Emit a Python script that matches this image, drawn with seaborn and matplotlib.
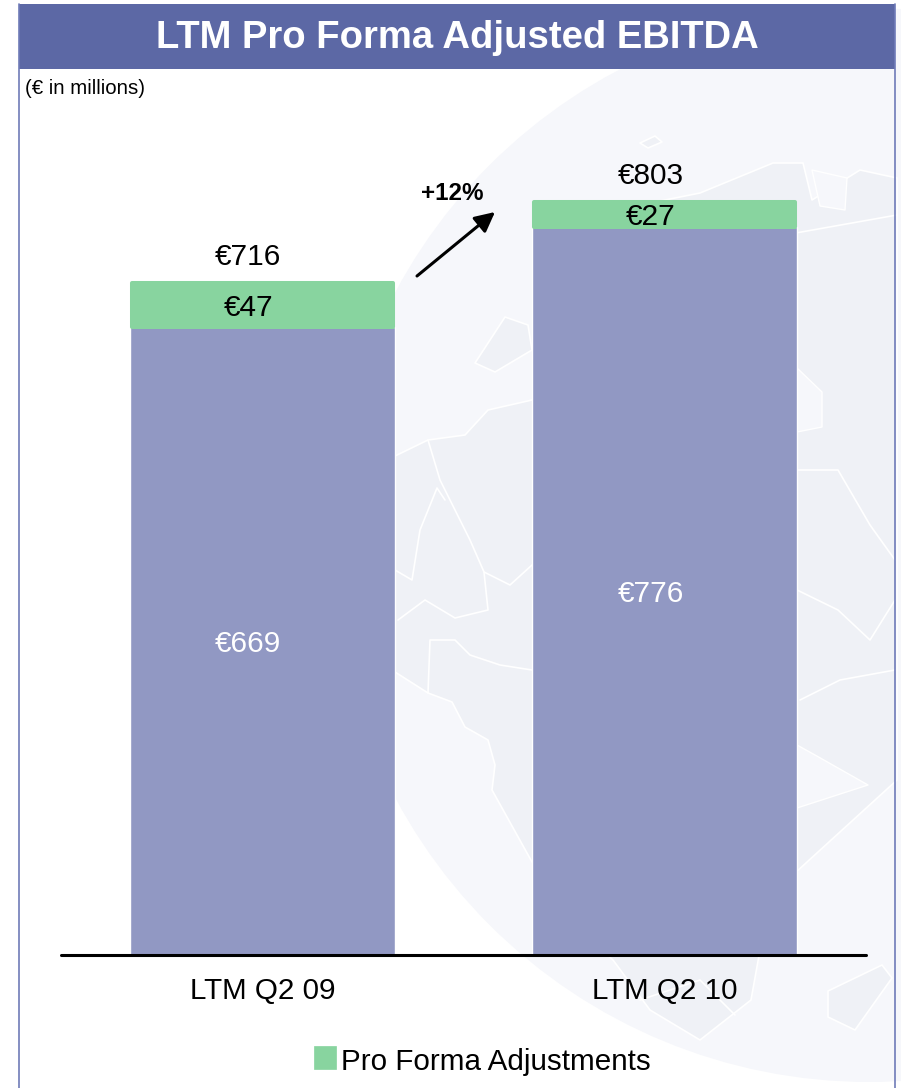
import matplotlib
matplotlib.use("Agg")
import matplotlib.pyplot as plt
import seaborn as sns
import pandas as pd
from matplotlib.patches import Circle, Polygon, Rectangle

sns.set_theme(style="white")
plt.rcParams['font.family'] = ['Liberation Sans', 'DejaVu Sans']

# Values in EUR millions, as labelled on the chart
periods = ["LTM Q2 09", "LTM Q2 10"]
base_ebitda = [669, 776]
adjustments = [47, 27]
totals = [716, 803]
growth_label = "+12%"

BLUE = "#9198c3"
GREEN = "#88d49f"
HEADER = "#5c68a5"
GLOBE = "#f6f7fb"
LAND = "#eff1f6"
W, H = 901, 1088

df = pd.DataFrame({"period": periods, "base": base_ebitda, "adj": adjustments, "total": totals})

fig = plt.figure(figsize=(W / 100, H / 100), dpi=100, facecolor="white")

# page layer in pixel coords: globe watermark, frame, header
bg = fig.add_axes([0, 0, 1, 1])
bg.set_xlim(0, W)
bg.set_ylim(H, 0)
bg.axis("off")
frame = Rectangle((19, 4), 876, 1090, fc="white", ec="none")
bg.add_patch(frame)
globe = Circle((869, 545), 537, fc=GLOBE, ec="none")
bg.add_patch(globe)

# rough continents on the globe
land = [
    [(395, 456), (428, 440), (465, 435), (488, 410), (532, 400), (700, 300), (795, 210), (897, 182),
     (897, 780), (795, 873), (760, 950), (751, 1000), (700, 1040), (650, 1010), (613, 960), (580, 930),
     (532, 862), (492, 790), (495, 765), (488, 740), (465, 727), (452, 702), (428, 693), (395, 672)],
    [(475, 363), (490, 340), (505, 317), (528, 325), (532, 350), (495, 372)],
    [(640, 205), (700, 193), (773, 163), (803, 163), (812, 200), (860, 170), (897, 178), (897, 215), (700, 250)],
    [(828, 991), (882, 965), (892, 978), (855, 1030), (828, 1017)],
    [(640, 143), (655, 136), (662, 142), (648, 148)],
]
for pts in land:
    p = Polygon(pts, closed=True, fc=LAND, ec="white", lw=1.2, joinstyle="round")
    bg.add_patch(p)
    p.set_clip_path(globe)

# seas and borders on top of the land
seas = [
    [(812, 170), (847, 178), (845, 210), (820, 206)],
    [(797, 368), (822, 392), (822, 427), (797, 432)],
    [(797, 808), (868, 785), (815, 755), (797, 745)],
]
for pts in seas:
    p = Polygon(pts, closed=True, fc=GLOBE, ec="white", lw=1.0, joinstyle="round")
    bg.add_patch(p)
    p.set_clip_path(globe)

borders = [
    [(428, 440), (440, 480), (470, 540), (484, 572), (510, 585), (532, 565)],
    [(484, 572), (488, 610), (455, 618), (425, 600), (398, 620)],
    [(395, 570), (412, 580), (420, 530), (437, 488), (445, 500)],
    [(428, 693), (430, 640), (455, 640), (470, 655), (500, 665), (532, 670)],
    [(797, 470), (838, 470), (870, 525), (895, 560)],
    [(797, 590), (838, 610), (870, 640), (895, 600)],
    [(800, 700), (840, 680), (895, 670)],
    [(640, 1000), (700, 980), (735, 1015)],
]
for pts in borders:
    xs, ys = zip(*pts)
    bg.plot(xs, ys, color="white", lw=1.2, solid_joinstyle="round")

bg.plot([19, 19], [4, H], color="#6f7bb8", lw=1.2)
bg.plot([895, 895], [4, H], color="#6f7bb8", lw=1.2)
bg.add_patch(Rectangle((19, 4), 876, 65, fc=HEADER, ec="none"))
bg.text(457, 38, "LTM Pro Forma Adjusted EBITDA", color="white", fontsize=27.5,
        fontweight="bold", ha="center", va="center")
bg.text(25, 88, "(€ in millions)", color="black", fontsize=14.7, ha="left", va="center")

# chart layer, 61-866 px wide, baseline at y=955
ax = fig.add_axes([61 / W, 1 - 955 / H, (866 - 61) / W, (955 - 70) / H])
ax.patch.set_alpha(0)
sns.barplot(data=df, x="period", y="base", color=BLUE, width=0.659, saturation=1, ax=ax)
base_bars = list(ax.patches)
sns.barplot(data=df, x="period", y="adj", bottom=df["base"], color=GREEN, width=0.649,
            saturation=1, ax=ax, edgecolor=GREEN, linewidth=2.9)
for bar in ax.patches[len(base_bars):]:
    bar.set_joinstyle("round")

ax.set_xlim(-0.5, 1.5)
ax.set_ylim(0, 885 / 0.938)
ax.set_xlabel("")
ax.set_ylabel("")
ax.set_yticks([])
ax.tick_params(axis="x", length=0, labelsize=21.3, pad=16, colors="black")
sns.despine(ax=ax, left=True)
ax.spines["bottom"].set_color("black")
ax.spines["bottom"].set_linewidth(2.2)
ax.spines["bottom"].set_capstyle("round")

for i, row in df.iterrows():
    ax.annotate(f"€{row['base']}", (i, row["base"] / 2), xytext=(-14, -3),
                textcoords="offset pixels", ha="center", va="center", color="white", fontsize=21.5)
    ax.annotate(f"€{row['adj']}", (i, row["base"] + row["adj"] / 2), xytext=(-14, -3),
                textcoords="offset pixels", ha="center", va="center", color="black", fontsize=21.5)
    ax.annotate(f"€{row['total']}", (i, row["total"]), xytext=(-14, 26),
                textcoords="offset pixels", ha="center", va="center", color="black", fontsize=21.5)

# growth arrow between the bars
bg.set_zorder(0)
ax.set_zorder(1)
ax.annotate("", xy=(495, 212), xytext=(417, 276), xycoords=bg.transData, textcoords=bg.transData,
            arrowprops=dict(arrowstyle="-|>,head_length=1.0,head_width=0.5", color="black", lw=2.2,
                            shrinkA=0, shrinkB=0))
ax.annotate(growth_label, (452, 193), xycoords=bg.transData, ha="center", va="center",
            fontsize=17.4, fontweight="bold", color="black")

# legend, only the adjustments get a key
bg.add_patch(Rectangle((314, 1046), 22, 23, fc=GREEN, ec=GREEN, lw=0.5))
bg.text(341, 1062, "Pro Forma Adjustments", fontsize=21.3, color="black", ha="left", va="center")

fig.savefig("out.png", dpi=100)
